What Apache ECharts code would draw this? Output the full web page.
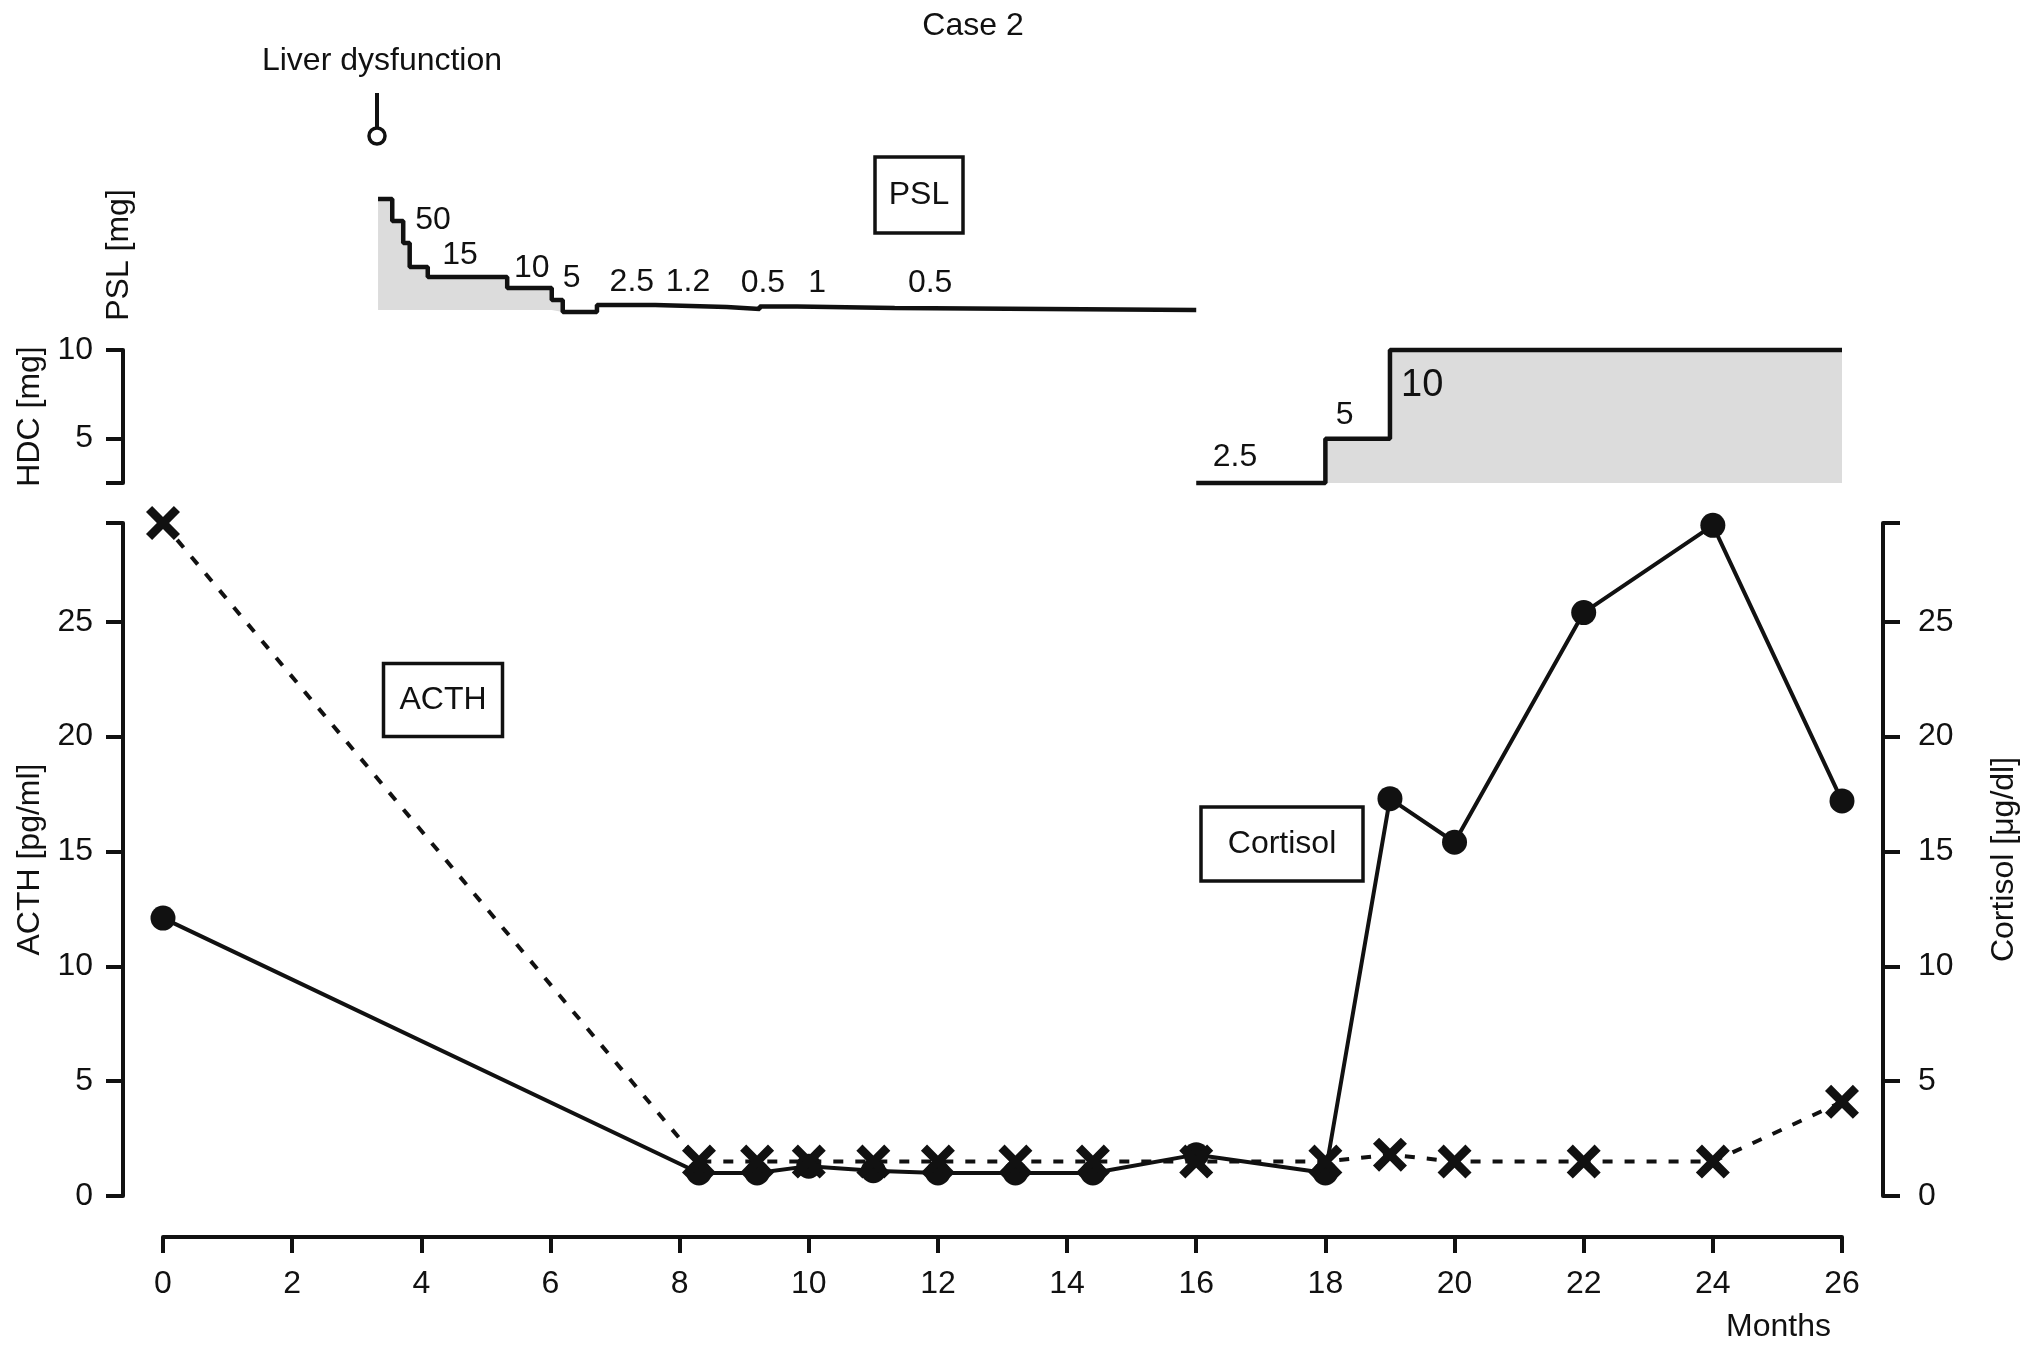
<!DOCTYPE html>
<html>
<head>
<meta charset="utf-8">
<title>Case 2</title>
<script src="https://cdn.jsdelivr.net/npm/echarts@6/dist/echarts.min.js"></script>
<style>
  html, body { margin: 0; padding: 0; background: #fff; }
  #chart { width: 2032px; height: 1351px; }
</style>
</head>
<body>
<div id="chart"></div>
<script>
// main panel: ACTH (left axis) and cortisol (right axis)
const months = [0, 8.3, 9.2, 10, 11, 12, 13.2, 14.4, 16, 18, 19, 20, 22, 24, 26]
const acth = [29.3, 1.5, 1.5, 1.5, 1.5, 1.5, 1.5, 1.5, 1.5, 1.5, 1.8, 1.5, 1.5, 1.5, 4.1]
const cortisol = [12.1, 1.0, 1.0, 1.3, 1.1, 1.0, 1.0, 1.0, 1.8, 1.0, 17.3, 15.4, 25.4, 29.2, 17.2]
const mainTicks = [0, 5, 10, 15, 20, 25, 29.3]
const mainLabels = [0, 5, 10, 15, 20, 25]
const monthTicks = [0, 2, 4, 6, 8, 10, 12, 14, 16, 18, 20, 22, 24, 26]

// HDC step panel
const hdcMonths = [16, 18, 19, 26]
const hdcDose = [2.5, 5, 10, 10]
const hdcLabelText = ['2.5', '5', '10']
const hdcLabelMonths = [16.6, 18.3, 19.5]
const hdcLabelLevels = [3.97, 6.3, 8.0]

// PSL taper (schematic step heights as drawn, no scale shown)
const pslMonths = [3.33, 3.55, 3.72, 3.82, 4.1, 5.33, 6.02, 6.19, 6.72, 7.62, 8.73, 9.24, 9.82, 11.33, 16]
const pslLevel = [111, 89, 67, 43, 33, 22, 10, -2, 5, 3, 1, 3.5, 2, 0, 0]
const pslFilledCount = 8
const pslLabelText = ['50', '15', '10', '5', '2.5', '1.2', '0.5', '1', '0.5']
const pslLabelMonths = [4.18, 4.6, 5.71, 6.33, 7.26, 8.13, 9.29, 10.13, 11.88]
const pslLabelLevels = [90, 55, 42, 32, 28, 28, 27, 27, 27]

const FONT = '"Liberation Sans", Arial, Helvetica, sans-serif'
const FS = 32
const INK = '#111'
const FILL = '#dcdcdc'
const CROSS = 'path://M0,18L18,0L50,32L82,0L100,18L68,50L100,82L82,100L50,68L18,100L0,82L32,50Z'

const pairs = (xs, ys) => xs.map((x, i) => [x, ys[i]])

const axisLine = { show: true, onZero: false, lineStyle: { color: INK, width: 4 } }
const axisTick = (vals, len) => ({ show: true, length: len, lineStyle: { color: INK, width: 4 }, customValues: vals })
const axisLabel = (vals, margin) => ({
  color: INK, fontSize: FS, fontFamily: FONT, margin: margin, customValues: vals
})
const axisName = (text, gap) => ({
  name: text,
  nameLocation: 'middle',
  nameGap: gap,
  nameMoveOverlap: false,
  nameTextStyle: { color: INK, fontSize: FS, fontFamily: FONT }
})
const hiddenX = (gridIndex) => ({
  type: 'value', gridIndex: gridIndex, min: 0, max: 26,
  show: false, splitLine: { show: false }
})
const doseLabel = (texts) => ({
  show: true,
  position: 'inside',
  color: INK,
  opacity: 1,
  textBorderWidth: 0,
  fontFamily: FONT,
  fontSize: FS,
  formatter: (p) => texts[p.dataIndex]
})

function box (cx, cy, w, h, text) {
  return {
    type: 'group',
    children: [{
      type: 'rect',
      shape: { x: cx - w / 2, y: cy - h / 2, width: w, height: h },
      style: { fill: '#fff', stroke: INK, lineWidth: 3.5 }
    }, {
      type: 'text',
      x: cx, y: cy,
      style: { text: text, fill: INK, font: FS + 'px ' + FONT, align: 'center', verticalAlign: 'middle' }
    }]
  }
}

function note (x, y, text, align) {
  return {
    type: 'text', x: x, y: y,
    style: { text: text, fill: INK, font: FS + 'px ' + FONT, align: align, verticalAlign: 'middle' }
  }
}

const chart = echarts.init(document.getElementById('chart'))
chart.setOption({
  animation: false,
  backgroundColor: '#fff',
  grid: [
    { left: 163, right: 190, top: 523, bottom: 155 },
    { left: 163, right: 190, top: 350, height: 133 },
    { left: 163, right: 190, top: 190, height: 130 }
  ],
  xAxis: [{
    type: 'value',
    gridIndex: 0,
    min: 0,
    max: 26,
    interval: 2,
    offset: 41,
    axisLine: axisLine,
    axisTick: axisTick(monthTicks, 16),
    axisLabel: axisLabel(monthTicks, 31),
    splitLine: { show: false }
  }, hiddenX(1), hiddenX(2)],
  yAxis: [Object.assign({
    type: 'value',
    gridIndex: 0,
    position: 'left',
    min: 0,
    max: 29.3,
    offset: 40,
    axisLine: axisLine,
    axisTick: axisTick(mainTicks, 17),
    axisLabel: axisLabel(mainLabels, 30),
    splitLine: { show: false }
  }, axisName('ACTH [pg/ml]', 77)), Object.assign({
    type: 'value',
    gridIndex: 0,
    position: 'right',
    min: 0,
    max: 29.3,
    offset: 41,
    axisLine: axisLine,
    axisTick: axisTick(mainTicks, 17),
    axisLabel: axisLabel(mainLabels, 35),
    splitLine: { show: false }
  }, axisName('Cortisol [μg/dl]', 105)), Object.assign({
    type: 'value',
    gridIndex: 1,
    position: 'left',
    min: 2.5,
    max: 10,
    offset: 40,
    axisLine: axisLine,
    axisTick: axisTick([2.5, 5, 10], 17),
    axisLabel: axisLabel([5, 10], 30),
    splitLine: { show: false }
  }, axisName('HDC [mg]', 77)), Object.assign({
    type: 'value',
    gridIndex: 2,
    position: 'left',
    min: -10,
    max: 120,
    axisLine: { show: false },
    axisTick: { show: false },
    axisLabel: { show: false },
    splitLine: { show: false }
  }, axisName('PSL [mg]', 28))],
  graphic: [
    note(973, 26, 'Case 2', 'center'),
    note(382, 61, 'Liver dysfunction', 'center'),
    {
      type: 'line', shape: { x1: 377, y1: 93, x2: 377, y2: 128 },
      style: { stroke: INK, lineWidth: 4 }
    },
    {
      type: 'circle', shape: { cx: 377, cy: 136, r: 8 },
      style: { fill: '#fff', stroke: INK, lineWidth: 3.5 }
    },
    note(1831, 1327, 'Months', 'right'),
    box(919, 195, 88, 76, 'PSL'),
    box(1519, 443, 99, 75, 'HDC'),
    box(443, 700, 119, 73, 'ACTH'),
    box(1282, 844, 162, 74, 'Cortisol')
  ],
  series: [{
    name: 'Cortisol',
    type: 'line',
    xAxisIndex: 0,
    yAxisIndex: 1,
    data: pairs(months, cortisol),
    symbol: 'circle',
    symbolSize: 25,
    clip: false,
    lineStyle: { color: INK, width: 4 },
    itemStyle: { color: INK },
    z: 3
  }, {
    name: 'ACTH',
    type: 'line',
    xAxisIndex: 0,
    yAxisIndex: 0,
    data: pairs(months, acth),
    symbol: CROSS,
    symbolSize: 34,
    clip: false,
    lineStyle: { color: INK, width: 4, type: [10, 12] },
    itemStyle: { color: INK },
    z: 4
  }, {
    name: 'HDC fill',
    type: 'line',
    xAxisIndex: 1,
    yAxisIndex: 2,
    step: 'end',
    data: pairs(hdcMonths, hdcDose).slice(1),
    symbol: 'none',
    clip: false,
    lineStyle: { width: 0 },
    areaStyle: { color: FILL, opacity: 1, origin: 'start' },
    z: 1
  }, {
    name: 'HDC',
    type: 'line',
    xAxisIndex: 1,
    yAxisIndex: 2,
    step: 'end',
    data: pairs(hdcMonths, hdcDose),
    symbol: 'none',
    clip: false,
    lineStyle: { color: INK, width: 4.5 },
    z: 2
  }, {
    name: 'HDC dose',
    type: 'scatter',
    xAxisIndex: 1,
    yAxisIndex: 2,
    data: pairs(hdcLabelMonths, hdcLabelLevels),
    symbolSize: 0,
    clip: false,
    itemStyle: { opacity: 1 },
    label: doseLabel(hdcLabelText),
    labelLayout: (p) => (p.dataIndex === 2 ? { fontSize: 38 } : {}),
    z: 5
  }, {
    name: 'PSL fill',
    type: 'line',
    xAxisIndex: 2,
    yAxisIndex: 3,
    step: 'end',
    data: pairs(pslMonths, pslLevel).slice(0, pslFilledCount),
    symbol: 'none',
    clip: false,
    lineStyle: { width: 0 },
    areaStyle: { color: FILL, opacity: 1 },
    z: 1
  }, {
    name: 'PSL',
    type: 'line',
    xAxisIndex: 2,
    yAxisIndex: 3,
    step: 'end',
    data: pairs(pslMonths, pslLevel),
    symbol: 'none',
    clip: false,
    lineStyle: { color: INK, width: 4.5 },
    z: 2
  }, {
    name: 'PSL dose',
    type: 'scatter',
    xAxisIndex: 2,
    yAxisIndex: 3,
    data: pairs(pslLabelMonths, pslLabelLevels),
    symbolSize: 0,
    clip: false,
    itemStyle: { opacity: 1 },
    label: doseLabel(pslLabelText),
    z: 5
  }]
})
</script>
</body>
</html>
